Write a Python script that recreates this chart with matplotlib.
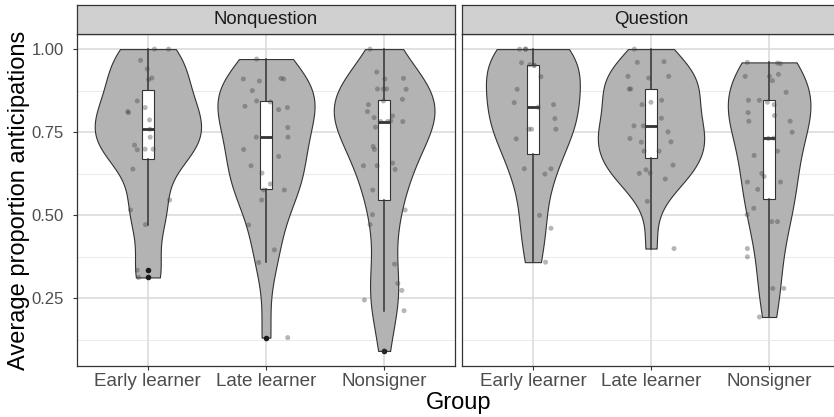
import numpy as np
import matplotlib
matplotlib.use('Agg')
import matplotlib.pyplot as plt

plt.rcParams['font.family'] = ['Liberation Sans', 'DejaVu Sans']

# ---------------- data ----------------
groups = ['Early learner', 'Late learner', 'Nonsigner']
facets = ['Nonquestion', 'Question']
y_ticks = [0.25, 0.50, 0.75, 1.00]
y_tick_labels = ['0.25', '0.50', '0.75', '1.00']
y_minor = [0.125, 0.375, 0.625, 0.875]
x_title = 'Group'
y_title = 'Average proportion anticipations'

nq_early = [1.00, 1.00, 0.966, 0.94, 0.908, 0.913, 0.844, 0.812, 0.809, 0.824, 0.787,
            0.735, 0.711, 0.697, 0.699, 0.699, 0.639, 0.546, 0.516, 0.472, 0.335, 0.313, 0.759]
nq_early_jit = [0.056, 0.175, -0.062, -0.006, 0.006, 0.034, -0.09, -0.17, -0.165, -0.023, 0.014,
                0.02, -0.113, -0.09, -0.023, 0.045, -0.127, 0.184, -0.147, -0.02, -0.09, -0.079, 0.017]

nq_late = [0.970, 0.910, 0.904, 0.912, 0.910, 0.875, 0.844, 0.841, 0.828, 0.818, 0.824, 0.764,
           0.735, 0.735, 0.698, 0.677, 0.649, 0.627, 0.594, 0.576, 0.576, 0.546, 0.471, 0.396,
           0.358, 0.132]
nq_late_jit = [-0.079, -0.192, -0.056, 0.127, 0.150, -0.116, -0.079, 0.037, -0.178, 0.107, 0.181, 0.184,
               -0.082, 0.186, -0.189, 0.107, -0.127, -0.034, 0.037, -0.02, 0.155, -0.037, -0.147, 0.071,
               -0.062, 0.184]

nq_non = [1.00, 0.931, 0.910, 0.912, 0.88, 0.88, 0.88, 0.879, 0.844, 0.849, 0.833, 0.812,
          0.794, 0.799, 0.784, 0.782, 0.765, 0.707, 0.698, 0.649, 0.649, 0.657, 0.638, 0.576,
          0.516, 0.502, 0.472, 0.353, 0.295, 0.274, 0.245, 0.213, 0.092, 0.782, 0.782]
nq_non_jit = [-0.119, -0.062, 0.006, 0.164, -0.056, -0.006, 0.02, 0.186, -0.006, 0.155, -0.133, -0.141,
              -0.085, 0.071, 0.056, 0.158, -0.073, -0.093, -0.082, -0.175, -0.059, 0.071, 0.093, -0.096,
              0.178, -0.099, -0.119, 0.088, 0.116, 0.150, -0.167, 0.169, 0.0, 0.028, -0.028]

q_early = [1.00, 1.00, 0.959, 0.953, 0.951, 0.917, 0.879, 0.839, 0.825, 0.833, 0.791, 0.759,
           0.759, 0.759, 0.730, 0.640, 0.640, 0.624, 0.500, 0.461, 0.359, 1.00, 0.951]
q_early_jit = [-0.113, -0.062, -0.096, -0.025, 0.011, 0.068, -0.133, -0.158, 0.045, 0.175, 0.186, -0.034,
               -0.011, 0.195, -0.141, -0.073, 0.153, 0.102, 0.056, 0.153, 0.107, -0.062, 0.011]

q_late = [1.00, 0.96, 0.962, 0.918, 0.913, 0.918, 0.88, 0.88, 0.84, 0.846, 0.833, 0.792,
          0.769, 0.769, 0.751, 0.731, 0.72, 0.721, 0.693, 0.693, 0.651, 0.637, 0.627, 0.626,
          0.609, 0.542, 0.40]
q_late_jit = [-0.141, -0.116, 0.110, -0.195, -0.02, 0.150, -0.184, -0.172, 0.0, 0.090, -0.076, 0.088,
              -0.144, -0.065, 0.144, -0.178, -0.082, 0.169, -0.059, 0.068, 0.186, -0.042, -0.008, -0.099,
              0.121, -0.031, 0.195]

q_non = [0.96, 0.958, 0.956, 0.918, 0.918, 0.905, 0.924, 0.87, 0.846, 0.846, 0.84, 0.833,
         0.809, 0.783, 0.80, 0.783, 0.75, 0.731, 0.693, 0.68, 0.626, 0.617, 0.60, 0.60,
         0.578, 0.521, 0.502, 0.481, 0.481, 0.40, 0.375, 0.28, 0.28, 0.194, 0.732]
q_non_jit = [-0.184, 0.071, 0.096, -0.203, 0.003, 0.028, 0.079, 0.144, -0.175, -0.082, -0.014, 0.042,
             -0.178, -0.172, 0.045, 0.178, 0.195, -0.006, 0.071, -0.127, -0.062, -0.042, -0.184, 0.096,
             -0.096, -0.130, -0.186, 0.023, 0.071, -0.184, -0.184, 0.031, 0.124, -0.082, 0.037]

panel_values = [[nq_early, nq_late, nq_non], [q_early, q_late, q_non]]
panel_jitter = [[nq_early_jit, nq_late_jit, nq_non_jit], [q_early_jit, q_late_jit, q_non_jit]]

# ---------------- helpers ----------------
def bw_nrd0(x):
    sd = np.std(x, ddof=1)
    q75, q25 = np.percentile(x, [75, 25])
    iqr = (q75 - q25) / 1.34
    lo = min(sd, iqr) if iqr > 0 else sd
    return 0.9 * lo * len(x) ** -0.2

def kde(x, grid):
    bw = bw_nrd0(x)
    z = (grid[:, None] - x[None, :]) / bw
    return np.exp(-0.5 * z ** 2).sum(1) / (len(x) * bw * np.sqrt(2 * np.pi))

# ---------------- figure ----------------
W, H = 834, 417
fig = plt.figure(figsize=(W / 100, H / 100), dpi=100)

dark = '#333333'
all_vals = np.concatenate([np.array(v) for p in panel_values for v in p])
lo, hi = all_vals.min(), all_vals.max()
pad = 0.05 * (hi - lo)

panel_left_px = [77, 462]
panel_w_px = 378
panel_top_px, panel_bot_px = 34, 366
strip_top_px = 5

for pi, facet in enumerate(facets):
    ax = fig.add_axes([panel_left_px[pi] / W, 1 - panel_bot_px / H,
                       panel_w_px / W, (panel_bot_px - panel_top_px) / H])
    ax.set_xlim(0.4, 3.6)
    ax.set_ylim(lo - pad, hi + pad)
    ax.set_axisbelow(True)
    ax.set_yticks(y_ticks)
    ax.set_yticks(y_minor, minor=True)
    ax.set_xticks([1, 2, 3])
    ax.grid(which='major', color='#D9D9D9', lw=1.1, zorder=0)
    ax.grid(which='minor', axis='y', color='#E6E6E6', lw=0.6, zorder=0)

    # violins
    grids, dens = [], []
    for vals in panel_values[pi]:
        v = np.array(vals)
        g = np.linspace(v.min(), v.max(), 512)
        grids.append(g)
        dens.append(kde(v, g))
    dmax = max(d.max() for d in dens)
    for gi, (g, d) in enumerate(zip(grids, dens)):
        w = 0.45 * d / dmax
        ax.fill_betweenx(g, gi + 1 - w, gi + 1 + w, facecolor='#B3B3B3',
                         edgecolor=dark, lw=0.8, zorder=2)

    # boxplots
    ax.boxplot([np.array(v) for v in panel_values[pi]], positions=[1, 2, 3], widths=0.1,
               patch_artist=True, showcaps=False, whis=1.5, manage_ticks=False,
               boxprops=dict(facecolor='white', edgecolor=dark, linewidth=0.8),
               medianprops=dict(color=dark, linewidth=2.0, solid_capstyle='butt'),
               whiskerprops=dict(color=dark, linewidth=1.1),
               flierprops=dict(marker='o', markerfacecolor='#1A1A1A', markeredgecolor='none',
                               markersize=4.0),
               zorder=3)

    # jittered points
    for gi in range(3):
        v = np.array(panel_values[pi][gi])
        j = np.array(panel_jitter[pi][gi])
        ax.scatter(gi + 1 + j, v, s=13, color='#404040', alpha=0.38,
                   edgecolors='none', zorder=4)

    ax.set_xticklabels(groups, fontsize=13.6, color='#4D4D4D')
    ax.tick_params(axis='x', which='major', length=3, width=0.8, color=dark, pad=2)
    ax.tick_params(axis='y', which='minor', length=0)
    if pi == 0:
        ax.set_yticklabels(y_tick_labels, fontsize=12, color='#4D4D4D')
        ax.tick_params(axis='y', which='major', length=3, width=0.8, color=dark, pad=6.5)
    else:
        ax.tick_params(axis='y', which='both', left=False, labelleft=False)
    for s in ax.spines.values():
        s.set_color(dark)
        s.set_linewidth(0.9)

    # strip
    sax = fig.add_axes([panel_left_px[pi] / W, 1 - panel_top_px / H,
                        panel_w_px / W, (panel_top_px - strip_top_px) / H])
    sax.set_facecolor('#D0D0D0')
    sax.set_xticks([])
    sax.set_yticks([])
    for s in sax.spines.values():
        s.set_color(dark)
        s.set_linewidth(0.9)
    sax.text(0.5, 0.5, facet, transform=sax.transAxes, ha='center', va='center',
             fontsize=13.4, color='#1A1A1A')

fig.text(458.5 / W, 1 - 409 / H, x_title, ha='center', va='baseline', fontsize=17, color='black')
fig.text(19 / W, 1 - 200 / H, y_title, ha='center', va='center', rotation=90,
         fontsize=17, color='black')

fig.savefig('out.png', dpi=100)
